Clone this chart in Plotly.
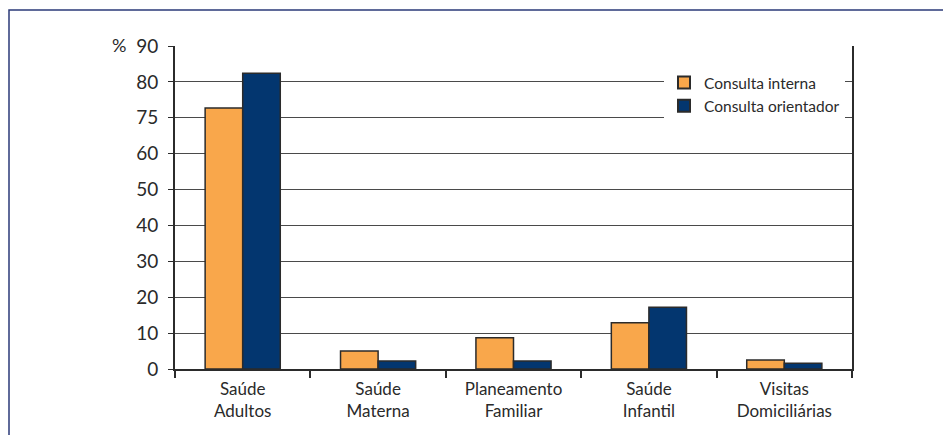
import plotly.graph_objects as go

# Categories and values (percent)
categories = ["Saúde<br>Adultos", "Saúde<br>Materna", "Planeamento<br>Familiar",
              "Saúde<br>Infantil", "Visitas<br>Domiciliárias"]
consulta_interna = [72.7, 5.0, 8.7, 12.9, 2.5]
consulta_orientador = [82.4, 2.2, 2.2, 17.2, 1.6]

y_tickvals = [0, 10, 20, 30, 40, 50, 60, 70, 80, 90]
y_ticktext = ["0", "10", "20", "30", "40", "50", "60", "75", "80", "90"]

FONT = "Lato"
TEXT = "#2a2a2a"
ORANGE = "#F9A74B"
NAVY = "#03366F"
EDGE = "#2b2b2b"

fig = go.Figure()
fig.add_trace(go.Bar(name="Consulta interna", x=categories, y=consulta_interna,
                     marker=dict(color=ORANGE, line=dict(color=EDGE, width=1.5))))
fig.add_trace(go.Bar(name="Consulta orientador", x=categories, y=consulta_orientador,
                     marker=dict(color=NAVY, line=dict(color=EDGE, width=1.5))))

W, H = 943, 435
L, R, T, B = 175, 91, 46, 66
pw, ph = W - L - R, H - T - B

def px_x(x):
    return (x - L) / pw

def px_y(y):
    return (H - B - y) / ph

fig.update_layout(
    width=W, height=H,
    margin=dict(l=L, r=R, t=T, b=B, pad=0),
    paper_bgcolor="white", plot_bgcolor="white",
    font=dict(family=FONT, size=16, color=TEXT),
    barmode="group", bargap=0.445, bargroupgap=0,
    showlegend=True,
    legend=dict(x=px_x(664), y=px_y(66), xanchor="left", yanchor="top",
                bgcolor="white", borderwidth=0,
                font=dict(family=FONT, size=15.5, color=TEXT),
                tracegroupgap=0, itemsizing="constant"),
    xaxis=dict(type="category", showgrid=False, showline=True, linecolor=EDGE,
               linewidth=1.5, ticks="outside", tickson="boundaries", ticklen=7,
               tickcolor=EDGE, tickwidth=1.5, tickfont=dict(size=17, color=TEXT),
               ticklabelstandoff=4, fixedrange=True),
    yaxis=dict(range=[0, 90], tickvals=y_tickvals, ticktext=y_ticktext,
               showgrid=True, gridcolor="#4a4a4a", gridwidth=1,
               showline=True, linecolor=EDGE, linewidth=2, mirror=True,
               ticks="outside", ticklen=5, tickcolor=EDGE, tickwidth=1,
               tickfont=dict(size=19, color=TEXT), ticklabelstandoff=6,
               zeroline=False, fixedrange=True),
    annotations=[dict(text="%", x=px_x(119), y=px_y(45), xref="paper", yref="paper",
                      xanchor="center", yanchor="middle",
                      showarrow=False, font=dict(size=18, color=TEXT))],
    shapes=[dict(type="rect", xref="paper", yref="paper",
                 x0=px_x(9), x1=px_x(960), y0=px_y(460), y1=px_y(10),
                 line=dict(color="#2b3a78", width=1.5), layer="below")],
)

fig.write_html("out.html")
